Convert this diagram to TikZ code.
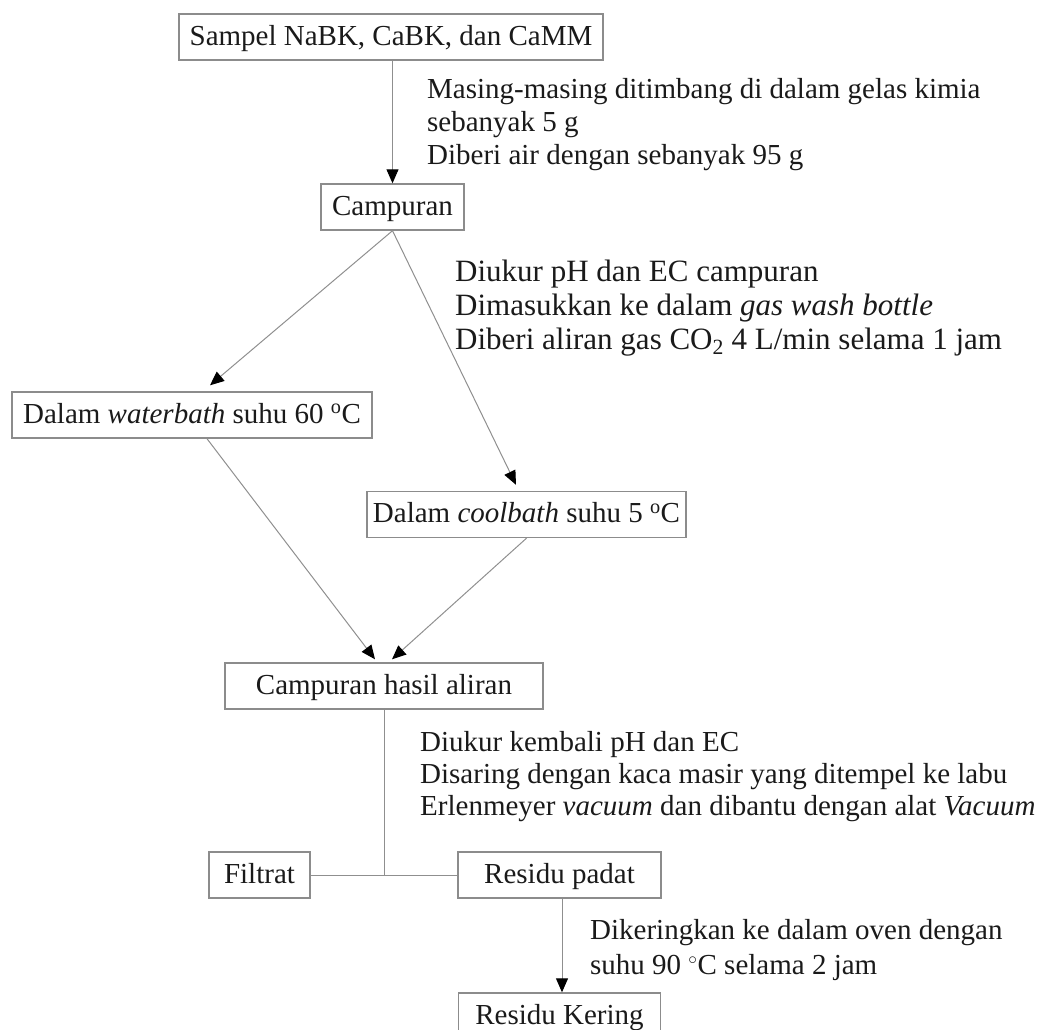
\documentclass[tikz,border=0pt]{standalone}
\usepackage{fontspec}
\setmainfont{Liberation Serif}
\usetikzlibrary{arrows.meta,calc}
\definecolor{boxline}{HTML}{8C8C8C}
\definecolor{linkline}{HTML}{8F8F8F}
\definecolor{ink}{HTML}{1A1A1A}
\begin{document}
\begin{tikzpicture}[x=1pt,y=-1pt,
  every node/.style={font=\fontsize{29}{33}\selectfont, text=ink},
  box/.style={draw=boxline, line width=1.4pt, inner sep=0pt,
    text height=21pt, text depth=5pt, minimum height=46pt},
  note/.style={anchor=base west, inner sep=0pt, text height=19pt, text depth=6pt},
  bignote/.style={note, font=\fontsize{31}{35}\selectfont},
  link/.style={draw=linkline, line width=1pt},
  arr/.style={link, -{Triangle[length=14pt,width=12pt,color=black,fill=black]}}]
\useasboundingbox (0,0) rectangle (1042,1029);
\clip (0,0) rectangle (1042,1029);

% process steps
\node[box, minimum width=424pt] (sampel) at (391,37) {Sampel NaBK, CaBK, dan CaMM};
\node[box, minimum width=143pt] (cmp) at (392.5,207) {Campuran};
\node[box, minimum width=360pt] (wb) at (192,415) {Dalam \textit{waterbath} suhu 60 \textsuperscript{o}C};
\node[box, minimum width=319pt] (cb) at (526.5,514.5) {Dalam \textit{coolbath} suhu 5 \textsuperscript{o}C};
\node[box, minimum width=318pt] (hasil) at (384,686) {Campuran hasil aliran};
\node[box, minimum width=101pt] (filtrat) at (259.5,875) {Filtrat};
\node[box, minimum width=203pt] (padat) at (559.5,875) {Residu padat};
\node[box, minimum width=202pt] (kering) at (559.5,1016) {Residu Kering};

% procedure notes
\node[note] (m1) at (427,98) {Masing-masing ditimbang di dalam gelas kimia};
\node[note] (m2) at (427,131) {sebanyak 5 g};
\node[note] (m3) at (427,164) {Diberi air dengan sebanyak 95 g};

\node[bignote] (d1) at (455,281) {Diukur pH dan EC campuran};
\node[bignote] (d2) at (455,315) {Dimasukkan ke dalam \textit{gas wash bottle}};
\node[bignote] (d3) at (455,349) {Diberi aliran gas CO\textsubscript{2} 4 L/min selama 1 jam};

\node[note] (k1) at (420,751) {Diukur kembali pH dan EC};
\node[note] (k2) at (420,783) {Disaring dengan kaca masir yang ditempel ke labu};
\node[note] (k3) at (420,815) {Erlenmeyer \textit{vacuum} dan dibantu dengan alat \textit{Vacuum}};

\node[note] (o1) at (590,939) {Dikeringkan ke dalam oven dengan};
\node[note] (o2) at (590,974) {suhu 90 {\fontsize{24}{24}\selectfont$^{\circ}$}C selama 2 jam};

% connectors
\draw[arr] (cmp.north |- sampel.south) -- (cmp.north);
\draw[arr] (cmp.south) -- ($(wb.north)+(18,-6)$);
\draw[arr] (cmp.south) -- ($(cb.north)+(-10.5,-6)$);
\draw[arr] ($(wb.south)+(15,0)$) -- ($(hasil.north)+(-9,-3)$);
\draw[arr] (cb.south) -- ($(hasil.north)+(8,-3)$);
\coordinate (split) at (hasil.south |- filtrat.east);
\draw[link] (hasil.south) -- (split);
\draw[link] (filtrat.east) -- (padat.west);
\draw[arr] ($(padat.south)+(2.5,0)$) -- ($(kering.north)+(2.5,0)$);
\end{tikzpicture}
\end{document}
